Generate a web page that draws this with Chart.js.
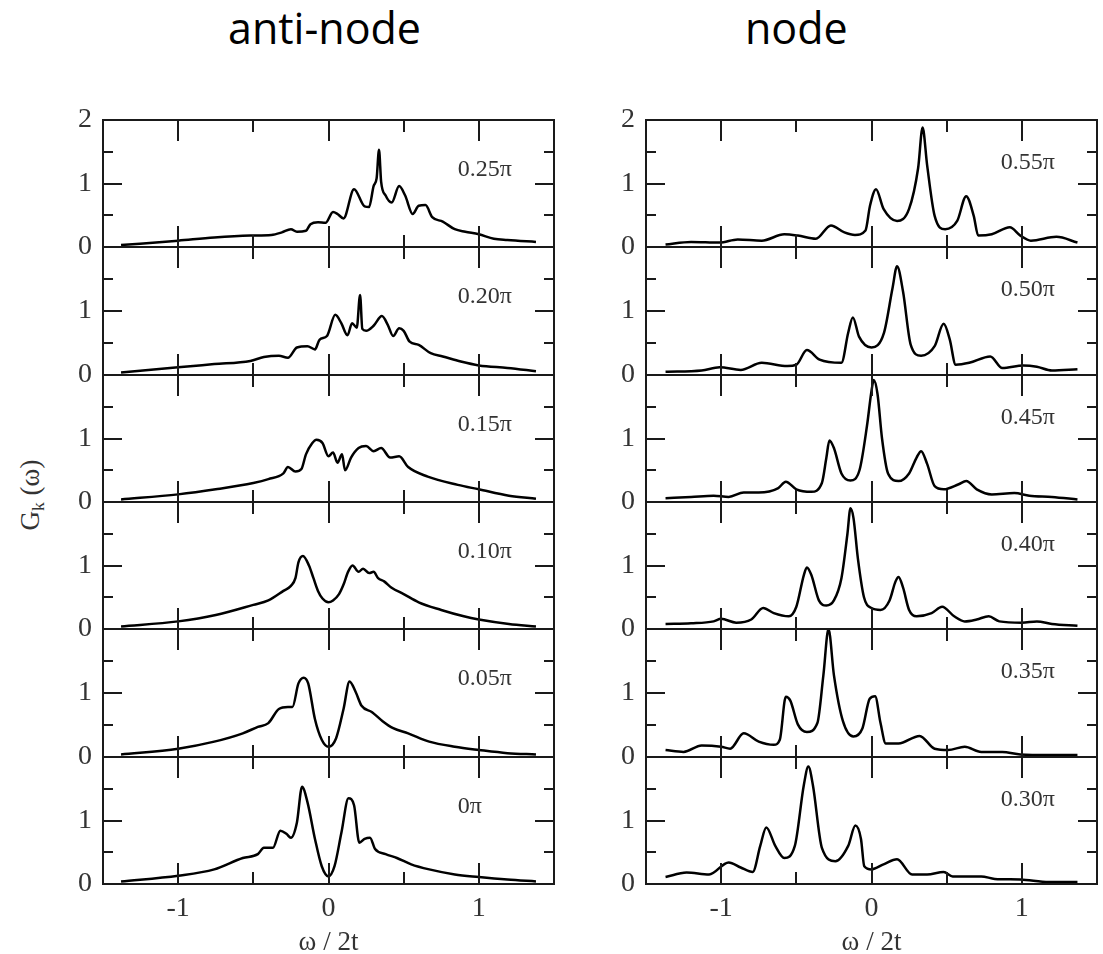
<!DOCTYPE html>
<html>
<head>
<meta charset="utf-8">
<script src="https://cdn.jsdelivr.net/npm/chart.js@4.4.1/dist/chart.umd.min.js"></script>
<style>
  body { margin: 0; background: #fff; }
  #page { position: relative; width: 1103px; height: 954px; overflow: hidden; background: #fff; }
  #page canvas { position: absolute; }
  .col-title { position: absolute; top: 6px; font-family: 'Open Sans', sans-serif; font-size: 43px; line-height: 1; color: #000; white-space: nowrap; }
  .y-title { position: absolute; left: 32px; top: 495px; transform: translate(-50%, -50%) rotate(-90deg);
    font-family: 'Liberation Serif', 'Times New Roman', serif; font-size: 27px; color: #333; white-space: nowrap; }
  .y-title sub { font-size: 0.65em; vertical-align: -0.3em; }
</style>
</head>
<body>
<div id="page">
  <div class="col-title" style="left:228px">anti-node</div>
  <div class="col-title" style="left:745px">node</div>
  <div class="y-title">G<sub>k</sub> (&omega;)</div>
</div>
<script>
// anti-node column, top to bottom
const omegaAn025 = [-1.38, -1.0, -0.76, -0.52, -0.38, -0.31, -0.25, -0.21, -0.15, -0.12, -0.07, -0.02, 0.03, 0.06, 0.10, 0.17, 0.24, 0.27, 0.30, 0.32, 0.336, 0.35, 0.38, 0.42, 0.47, 0.51, 0.56, 0.60, 0.645, 0.69, 0.76, 0.84, 0.91, 1.0, 1.1, 1.19, 1.38]
const gAn025 = [0.03, 0.10, 0.15, 0.18, 0.19, 0.23, 0.28, 0.24, 0.255, 0.36, 0.39, 0.38, 0.55, 0.52, 0.45, 0.91, 0.64, 0.63, 0.96, 1.08, 1.53, 1.03, 0.81, 0.70, 0.96, 0.81, 0.52, 0.65, 0.66, 0.47, 0.40, 0.28, 0.24, 0.20, 0.13, 0.11, 0.08]

const omegaAn020 = [-1.38, -1.0, -0.76, -0.52, -0.43, -0.33, -0.27, -0.21, -0.14, -0.09, -0.06, -0.01, 0.045, 0.085, 0.126, 0.157, 0.188, 0.21, 0.225, 0.25, 0.30, 0.355, 0.395, 0.43, 0.47, 0.50, 0.54, 0.60, 0.68, 0.76, 0.88, 1.0, 1.19, 1.38]
const gAn020 = [0.04, 0.12, 0.17, 0.22, 0.28, 0.30, 0.27, 0.43, 0.45, 0.40, 0.55, 0.61, 0.94, 0.81, 0.62, 0.81, 0.74, 1.25, 0.72, 0.69, 0.77, 0.92, 0.78, 0.61, 0.73, 0.69, 0.52, 0.47, 0.34, 0.29, 0.21, 0.15, 0.11, 0.06]

const omegaAn015 = [-1.38, -1.0, -0.75, -0.5, -0.4, -0.3, -0.27, -0.22, -0.18, -0.15, -0.11, -0.08, -0.04, 0.0, 0.03, 0.06, 0.09, 0.11, 0.15, 0.2, 0.25, 0.3, 0.35, 0.41, 0.47, 0.53, 0.66, 0.86, 1.0, 1.2, 1.38]
const gAn015 = [0.04, 0.12, 0.2, 0.3, 0.36, 0.45, 0.55, 0.48, 0.52, 0.75, 0.92, 0.98, 0.93, 0.72, 0.78, 0.62, 0.75, 0.5, 0.7, 0.85, 0.88, 0.8, 0.85, 0.7, 0.72, 0.55, 0.4, 0.27, 0.2, 0.1, 0.05]

const omegaAn010 = [-1.38, -1.0, -0.75, -0.5, -0.4, -0.3, -0.25, -0.22, -0.2, -0.17, -0.13, -0.1, -0.07, -0.04, 0.0, 0.03, 0.07, 0.1, 0.13, 0.16, 0.2, 0.23, 0.27, 0.3, 0.33, 0.37, 0.42, 0.5, 0.6, 0.75, 0.9, 1.0, 1.2, 1.38]
const gAn010 = [0.04, 0.12, 0.22, 0.38, 0.45, 0.6, 0.68, 0.8, 1.05, 1.15, 1.0, 0.8, 0.6, 0.48, 0.42, 0.45, 0.55, 0.7, 0.9, 1.0, 0.9, 0.95, 0.88, 0.9, 0.8, 0.75, 0.65, 0.55, 0.42, 0.3, 0.2, 0.15, 0.08, 0.04]

const omegaAn005 = [-1.38, -1.0, -0.76, -0.57, -0.47, -0.40, -0.33, -0.27, -0.24, -0.20, -0.165, -0.135, -0.09, -0.045, 0.0, 0.05, 0.10, 0.14, 0.18, 0.22, 0.29, 0.36, 0.43, 0.53, 0.67, 0.84, 1.0, 1.19, 1.38]
const gAn005 = [0.04, 0.13, 0.24, 0.37, 0.47, 0.53, 0.75, 0.78, 0.78, 1.15, 1.24, 1.15, 0.59, 0.27, 0.16, 0.29, 0.75, 1.18, 1.02, 0.80, 0.70, 0.56, 0.45, 0.37, 0.24, 0.16, 0.11, 0.06, 0.04]

const omegaAn000 = [-1.38, -1.0, -0.76, -0.57, -0.47, -0.43, -0.37, -0.32, -0.28, -0.25, -0.21, -0.176, -0.14, -0.09, -0.045, 0.0, 0.04, 0.086, 0.133, 0.17, 0.205, 0.24, 0.276, 0.31, 0.38, 0.455, 0.55, 0.67, 0.84, 1.0, 1.19, 1.38]
const gAn000 = [0.04, 0.13, 0.23, 0.41, 0.47, 0.57, 0.57, 0.84, 0.79, 0.73, 0.97, 1.53, 1.29, 0.71, 0.28, 0.12, 0.28, 0.81, 1.35, 1.24, 0.65, 0.71, 0.73, 0.55, 0.47, 0.41, 0.31, 0.23, 0.15, 0.11, 0.07, 0.04]

// node column, top to bottom
const omegaN055 = [-1.37, -1.2, -1.01, -0.89, -0.73, -0.58, -0.49, -0.37, -0.27, -0.18, -0.11, -0.04, -0.01, 0.03, 0.08, 0.17, 0.25, 0.31, 0.34, 0.37, 0.42, 0.49, 0.57, 0.63, 0.68, 0.71, 0.80, 0.92, 0.99, 1.06, 1.23, 1.37]
const gN055 = [0.04, 0.08, 0.07, 0.12, 0.10, 0.20, 0.18, 0.13, 0.34, 0.23, 0.19, 0.26, 0.65, 0.91, 0.60, 0.41, 0.60, 1.24, 1.88, 1.29, 0.49, 0.28, 0.41, 0.80, 0.49, 0.18, 0.20, 0.31, 0.18, 0.10, 0.16, 0.07]

const omegaN050 = [-1.37, -1.13, -1.01, -0.87, -0.73, -0.56, -0.50, -0.43, -0.345, -0.20, -0.155, -0.124, -0.083, 0.0, 0.083, 0.14, 0.17, 0.21, 0.26, 0.33, 0.42, 0.48, 0.52, 0.56, 0.65, 0.79, 0.87, 1.01, 1.1, 1.2, 1.37]
const gN050 = [0.05, 0.07, 0.12, 0.08, 0.19, 0.14, 0.16, 0.39, 0.24, 0.19, 0.66, 0.90, 0.60, 0.43, 0.66, 1.36, 1.70, 1.30, 0.48, 0.30, 0.45, 0.80, 0.56, 0.16, 0.19, 0.29, 0.11, 0.15, 0.13, 0.07, 0.09]

const omegaN045 = [-1.37, -1.2, -1.05, -0.95, -0.85, -0.75, -0.62, -0.57, -0.5, -0.4, -0.33, -0.3, -0.28, -0.25, -0.2, -0.14, -0.08, -0.03, 0.0, 0.015, 0.04, 0.07, 0.11, 0.18, 0.25, 0.3, 0.33, 0.37, 0.42, 0.48, 0.58, 0.63, 0.7, 0.8, 0.95, 1.05, 1.2, 1.37]
const gN045 = [0.06, 0.08, 0.1, 0.08, 0.15, 0.15, 0.22, 0.32, 0.2, 0.16, 0.3, 0.7, 0.97, 0.85, 0.45, 0.34, 0.5, 1.2, 1.75, 1.92, 1.7, 1.0, 0.45, 0.33, 0.45, 0.7, 0.8, 0.6, 0.25, 0.2, 0.28, 0.33, 0.2, 0.12, 0.14, 0.1, 0.08, 0.04]

const omegaN040 = [-1.37, -1.2, -1.05, -1.0, -0.9, -0.8, -0.72, -0.65, -0.55, -0.5, -0.45, -0.43, -0.4, -0.35, -0.3, -0.25, -0.2, -0.16, -0.14, -0.12, -0.09, -0.05, 0.0, 0.06, 0.12, 0.16, 0.18, 0.21, 0.25, 0.3, 0.4, 0.47, 0.55, 0.62, 0.7, 0.78, 0.85, 1.0, 1.1, 1.2, 1.37]
const gN040 = [0.08, 0.09, 0.12, 0.16, 0.1, 0.15, 0.33, 0.25, 0.2, 0.35, 0.85, 0.97, 0.85, 0.45, 0.37, 0.45, 0.8, 1.5, 1.9, 1.75, 1.1, 0.5, 0.33, 0.3, 0.45, 0.75, 0.82, 0.65, 0.3, 0.2, 0.25, 0.35, 0.2, 0.12, 0.15, 0.2, 0.12, 0.1, 0.12, 0.08, 0.05]

const omegaN035 = [-1.37, -1.25, -1.13, -1.0, -0.94, -0.85, -0.75, -0.65, -0.61, -0.57, -0.54, -0.49, -0.43, -0.36, -0.32, -0.286, -0.25, -0.19, -0.12, -0.06, -0.012, 0.024, 0.06, 0.095, 0.18, 0.32, 0.42, 0.51, 0.62, 0.73, 0.87, 0.99, 1.18, 1.37]
const gN035 = [0.11, 0.08, 0.18, 0.16, 0.13, 0.37, 0.24, 0.19, 0.27, 0.94, 0.88, 0.51, 0.39, 0.53, 1.28, 2.0, 1.28, 0.56, 0.32, 0.45, 0.91, 0.95, 0.53, 0.21, 0.21, 0.33, 0.13, 0.11, 0.16, 0.08, 0.08, 0.04, 0.03, 0.03]

const omegaN030 = [-1.37, -1.23, -1.08, -0.95, -0.87, -0.79, -0.74, -0.70, -0.64, -0.58, -0.51, -0.45, -0.42, -0.39, -0.33, -0.24, -0.155, -0.107, -0.07, -0.048, 0.0, 0.08, 0.17, 0.27, 0.37, 0.48, 0.54, 0.73, 0.82, 0.99, 1.18, 1.37]
const gN030 = [0.11, 0.18, 0.15, 0.34, 0.26, 0.19, 0.60, 0.89, 0.60, 0.41, 0.60, 1.56, 1.85, 1.56, 0.57, 0.36, 0.60, 0.92, 0.71, 0.28, 0.23, 0.31, 0.39, 0.15, 0.15, 0.19, 0.12, 0.12, 0.08, 0.07, 0.03, 0.03]

const antiNodeLabels = ['0.25π', '0.20π', '0.15π', '0.10π', '0.05π', '0π']
const nodeLabels = ['0.55π', '0.50π', '0.45π', '0.40π', '0.35π', '0.30π']
const antiNodeSeries = [[omegaAn025, gAn025], [omegaAn020, gAn020], [omegaAn015, gAn015], [omegaAn010, gAn010], [omegaAn005, gAn005], [omegaAn000, gAn000]]
const nodeSeries = [[omegaN055, gN055], [omegaN050, gN050], [omegaN045, gN045], [omegaN040, gN040], [omegaN035, gN035], [omegaN030, gN030]]

// layout
const rowTops = [120, 247, 375, 502, 629, 757, 884]
const frameLefts = [103, 646]
const frameWidth = 451
const axisWidth = 60
const serif = '"Liberation Serif", "Times New Roman", serif'
const ink = '#1a1a1a'
const textInk = '#333'

const isWhole = (v) => Math.abs(v - Math.round(v)) < 1e-6

const framePlugin = {
  id: 'frame',
  afterDatasetsDraw(chart, args, opts) {
    const { ctx, chartArea: a, scales: { x, y } } = chart
    ctx.save()
    ctx.strokeStyle = ink
    ctx.lineWidth = 2
    ctx.strokeRect(a.left, a.top, a.right - a.left, a.bottom - a.top)
    ctx.beginPath()
    x.ticks.forEach((t) => {
      const px = Math.round(x.getPixelForValue(t.value))
      const len = isWhole(t.value) ? 21 : 12
      ctx.moveTo(px, a.top)
      ctx.lineTo(px, a.top + len)
      ctx.moveTo(px, a.bottom)
      ctx.lineTo(px, a.bottom - len)
    })
    y.ticks.forEach((t) => {
      const py = Math.round(y.getPixelForValue(t.value))
      const len = isWhole(t.value) ? 19 : 10
      ctx.moveTo(a.left, py)
      ctx.lineTo(a.left + len, py)
      ctx.moveTo(a.right, py)
      ctx.lineTo(a.right - len, py)
    })
    ctx.stroke()

    ctx.font = `24px ${serif}`
    ctx.fillStyle = textInk
    ctx.textAlign = 'left'
    ctx.textBaseline = 'middle'
    ctx.fillText(opts.text, x.getPixelForValue(opts.at[0]), y.getPixelForValue(opts.at[1]))
    ctx.restore()
  },
}

function makePanel(col, row, series, label) {
  const last = row === 5
  const top = rowTops[row]
  const h = rowTops[row + 1] - top
  // y tick labels reserve half a line plus their padding above and below
  const padTop = 30
  const padBottom = last ? 0 : 30
  const xAxisHeight = last ? 70 : 0

  const canvas = document.createElement('canvas')
  canvas.width = axisWidth + frameWidth + 10
  canvas.height = padTop + h + xAxisHeight + padBottom
  canvas.style.left = `${frameLefts[col] - axisWidth}px`
  canvas.style.top = `${top - padTop}px`
  document.getElementById('page').appendChild(canvas)

  const [xs, ys] = series
  return new Chart(canvas, {
    type: 'line',
    data: {
      datasets: [{
        data: xs.map((x, i) => ({ x, y: ys[i] })),
        borderColor: '#000',
        borderWidth: 2.5,
        pointRadius: 0,
        cubicInterpolationMode: 'monotone',
      }],
    },
    options: {
      responsive: false,
      animation: false,
      events: [],
      layout: { padding: { left: 0, right: 10, top: padTop, bottom: padBottom } },
      scales: {
        x: {
          type: 'linear',
          min: -1.5,
          max: 1.5,
          grid: { display: false, drawTicks: false },
          border: { display: false },
          ticks: {
            display: last,
            stepSize: 0.5,
            autoSkip: false,
            maxRotation: 0,
            padding: 8,
            color: textInk,
            font: { family: serif, size: 28 },
            callback: (v) => (isWhole(v) && Math.abs(v) < 1.2 ? String(Math.round(v)) : ''),
          },
          title: {
            display: last,
            text: 'ω / 2t',
            color: textInk,
            font: { family: serif, size: 27, lineHeight: 0.8 },
            padding: { top: 0, bottom: 0 },
          },
          afterFit: (s) => { s.height = xAxisHeight },
        },
        y: {
          min: 0,
          max: 2,
          grid: { display: false, drawTicks: false },
          border: { display: false },
          ticks: {
            stepSize: 0.5,
            autoSkip: false,
            padding: 11,
            color: textInk,
            font: { family: serif, size: 28 },
            callback: (v) => {
              if (!isWhole(v)) return ''
              if (v > 1.5 && row > 0) return ''
              return String(Math.round(v))
            },
          },
          afterFit: (s) => { s.width = axisWidth },
        },
      },
      plugins: {
        legend: { display: false },
        tooltip: { enabled: false },
        frame: { text: label, at: [0.86, col === 0 ? 1.22 : 1.33] },
      },
    },
    plugins: [framePlugin],
  })
}

antiNodeSeries.forEach((s, row) => makePanel(0, row, s, antiNodeLabels[row]))
nodeSeries.forEach((s, row) => makePanel(1, row, s, nodeLabels[row]))
</script>
</body>
</html>
